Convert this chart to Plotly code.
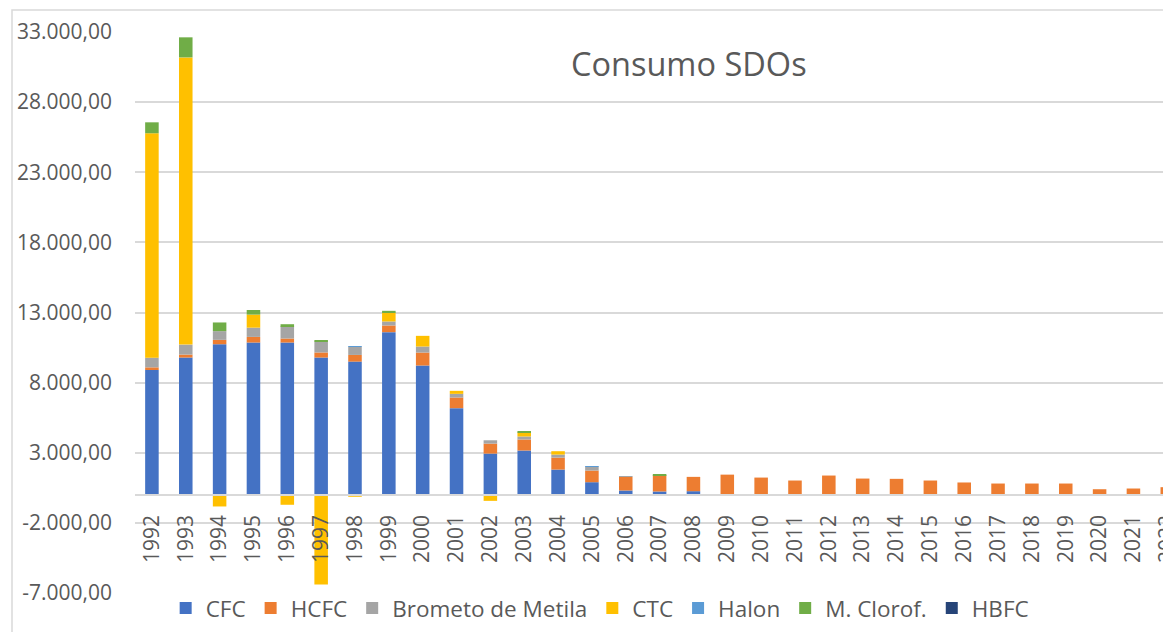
import plotly.graph_objects as go

years = [str(y) for y in range(1992, 2023)]

cfc = [8900, 9790, 10740, 10860, 10860, 9790, 9500, 11600, 9220, 6180,
       2940, 3160, 1800, 900, 310, 240, 260, 0, 0, 0,
       0, 0, 0, 0, 0, 0, 0, 0, 0, 0, 0]
hcfc = [190, 210, 310, 400, 285, 360, 475, 475, 925, 760,
        710, 785, 855, 830, 975, 1165, 1020, 1440, 1230, 1020,
        1375, 1160, 1140, 1020, 880, 805, 805, 805, 400, 450, 545]
brometo = [690, 710, 620, 660, 880, 780, 590, 285, 430, 260,
           240, 215, 215, 285, 30, 0, 0, 0, 0, 0,
           0, 0, 0, 0, 0, 0, 0, 0, 0, 0, 0]
ctc = [16000, 20480, -830, 930, -710, -6400, -140, 640, 760, 215,
       -430, 285, 240, 0, 0, 0, 0, 0, 0, 0,
       0, 0, 0, 0, 0, 0, 0, 0, 0, 0, 0]
halon = [0, 0, 0, 0, 0, 0, 40, 0, 0, 0,
         0, 0, 0, 40, 0, 0, 0, 0, 0, 0,
         0, 0, 0, 0, 0, 0, 0, 0, 0, 0, 0]
mclorof = [780, 1430, 620, 330, 140, 50, 0, 120, 0, 0,
           0, 40, 0, 0, 0, 60, 0, 0, 0, 0,
           0, 0, 0, 0, 0, 0, 0, 0, 0, 0, 0]
hbfc = [0] * 31

series = [
    ("CFC", cfc, "#4472C4"),
    ("HCFC", hcfc, "#ED7D31"),
    ("Brometo de Metila", brometo, "#A5A5A5"),
    ("CTC", ctc, "#FFC000"),
    ("Halon", halon, "#5B9BD5"),
    ("M. Clorof.", mclorof, "#70AD47"),
    ("HBFC", hbfc, "#264478"),
]

y_tickvals = [33000, 28000, 23000, 18000, 13000, 8000, 3000, -2000, -7000]


def fmt(v):
    s = f"{abs(v):,.2f}".replace(",", "X").replace(".", ",").replace("X", ".")
    return ("-" if v < 0 else "") + s


y_ticktext = [fmt(v) for v in y_tickvals]

FONT = "Open Sans"
GREY = "#595959"

fig = go.Figure()
for name, vals, color in series:
    fig.add_trace(go.Bar(
        x=years, y=vals, name=name,
        marker=dict(color=color, line=dict(width=0)),
    ))

ymin, ymax = -7000, 33000
zero_pos = (0 - ymin) / (ymax - ymin)

# page has an 8px body margin, so the figure is sized/offset to compensate
fig.update_layout(
    width=1163, height=624,
    margin=dict(l=127, r=0, t=24, b=39, autoexpand=False),
    paper_bgcolor="white", plot_bgcolor="white",
    barmode="relative", bargap=0.6,
    font=dict(family=FONT, color=GREY, size=21),
    showlegend=True,
    legend=dict(orientation="h", x=0.449, xanchor="center", y=0.011, yanchor="top",
                font=dict(size=22.5, color=GREY), itemwidth=30, traceorder="normal",
                bgcolor="rgba(0,0,0,0)"),
    xaxis=dict(
        type="category", range=[-0.5, 30.11],
        anchor="free", position=zero_pos,
        showline=True, linecolor="#d9d9d9", linewidth=1.5,
        showgrid=False, ticks="", tickangle=-90,
        tickfont=dict(size=21, color=GREY, family=FONT),
        ticklabelstandoff=11, layer="above traces", automargin=False,
    ),
    yaxis=dict(
        range=[ymin, ymax], tickvals=y_tickvals, ticktext=y_ticktext,
        showgrid=True, gridcolor="#d9d9d9", gridwidth=1.5,
        zeroline=False, showline=False, ticks="",
        tickfont=dict(size=21, color=GREY, family=FONT),
        ticklabelstandoff=22, automargin=False,
    ),
    annotations=[dict(
        text="Consumo SDOs", xref="paper", yref="paper",
        x=0.5345, y=0.943, xanchor="center", yanchor="middle",
        showarrow=False, font=dict(size=32.5, color=GREY, family=FONT),
    )],
    shapes=[dict(
        type="rect", xref="paper", yref="paper",
        x0=(4 - 127) / 1036, x1=1.05, y0=-0.2, y1=(585 - 2) / 561,
        line=dict(color="#d9d9d9", width=1.5), fillcolor="rgba(0,0,0,0)",
        layer="below",
    )],
)

fig.write_html("out.html")
